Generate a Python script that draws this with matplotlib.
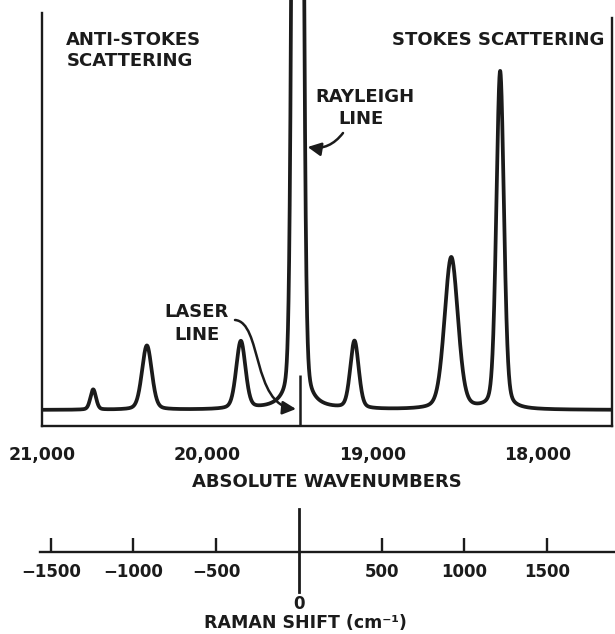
import numpy as np
import matplotlib
matplotlib.use("Agg")
import matplotlib.pyplot as plt
from matplotlib.path import Path
from matplotlib.patches import FancyArrowPatch

plt.rcParams['font.family'] = ['DejaVu Sans']
plt.rcParams['font.weight'] = 'bold'
plt.rcParams['axes.labelweight'] = 'bold'

# laser / Rayleigh line, absolute wavenumber (cm-1)
laser_wn = 19440

# Raman bands: shift from laser line (cm-1), relative height, FWHM (cm-1)
band_shift = [-1250, -925, -356, 332, 918, 1214]
band_height = [0.06, 0.19, 0.20, 0.20, 0.45, 1.0]
band_fwhm = [40, 70, 66, 60, 96, 54]

# Rayleigh line: sharp core plus broad wings
rayleigh_shift = -12
rayleigh_core = [6.3, 21]    # height, sigma
rayleigh_wing = [0.5, 32]    # height, half width

wn_ticks = [21000, 20000, 19000, 18000]
wn_labels = ["21,000", "20,000", "19,000", "18,000"]
shift_ticks = [-1500, -1000, -500, 500, 1000, 1500]
shift_labels = ["\u22121500", "\u22121000", "\u2212500", "500", "1000", "1500"]

ink = "#1b1b1b"
W, H = 615, 634
k = 0.1655        # pixels per cm-1
x0 = 299          # pixel column of the laser line


def fx(px):
    return px / W


def fy(py):
    return 1 - py / H


def spectrum(s):
    y = np.zeros_like(s)
    for c, h, fw in zip(band_shift, band_height, band_fwhm):
        sig = fw / 2.3548
        g = np.exp(-(s - c) ** 2 / (2 * sig ** 2))
        l = 1 / (1 + ((s - c) / (fw / 2)) ** 2)
        y += h * (0.75 * g + 0.25 * l)
    a, sg = rayleigh_core
    b, hw = rayleigh_wing
    y += a * np.exp(-(s - rayleigh_shift) ** 2 / (2 * sg ** 2))
    y += b / (1 + ((s - rayleigh_shift) / hw) ** 2)
    return y


s = np.linspace(-1600, 1950, 6000)
inten = spectrum(s)

fig = plt.figure(figsize=(W / 100, H / 100), dpi=100)

# spectrum panel (absolute wavenumbers)
ax1 = fig.add_axes([fx(42), fy(426), fx(612) - fx(42), fy(0) - fy(426)])
ax1.plot(laser_wn - s, inten, color=ink, lw=2.7, solid_joinstyle='round')
ax1.set_xlim(laser_wn - (42 - x0) / k, laser_wn - (612 - x0) / k)
y_lo = (410 - 426) / 338
ax1.set_ylim(y_lo, 410 / 338)
ax1.vlines(laser_wn, y_lo, (410 - 375) / 338, color=ink, lw=1.8)

for side in ['left', 'right', 'bottom']:
    ax1.spines[side].set_linewidth(1.7)
    ax1.spines[side].set_color(ink)
ax1.spines['top'].set_visible(False)
ax1.spines['left'].set_bounds(y_lo, (410 - 13) / 338)
ax1.spines['right'].set_bounds(y_lo, (410 - 18) / 338)
ax1.set_yticks([])
ax1.set_xticks(wn_ticks, wn_labels)
ax1.tick_params(axis='x', length=0, pad=14.5, labelsize=12.5, labelcolor=ink)
ax1.set_xlabel("ABSOLUTE WAVENUMBERS", fontsize=13, color=ink)
ax1.xaxis.set_label_coords(0.5, -(482 - 426) / 426)
ax1.xaxis.label.set_verticalalignment('center')

# Raman shift scale
ax2 = fig.add_axes([fx(40), fy(552), fx(615) - fx(40), fy(509) - fy(552)])
ax2.set_facecolor('none')
ax2.set_xlim((40 - x0) / k, (615 - x0) / k)
ax2.set_ylim(0, 1)
for side in ['left', 'right', 'top']:
    ax2.spines[side].set_visible(False)
ax2.spines['bottom'].set_linewidth(1.7)
ax2.spines['bottom'].set_color(ink)
ax2.set_yticks([])
ax2.set_xticks(shift_ticks, shift_labels)
ax2.tick_params(axis='x', direction='in', length=10, width=1.7, color=ink,
                pad=8, labelsize=12, labelcolor=ink)
tr = ax2.get_xaxis_transform()
ax2.plot([0, 0], [1.0, -(592 - 552) / 43], transform=tr, clip_on=False,
         color=ink, lw=2.0)
ax2.text(0, -(604 - 552) / 43, "0", transform=tr, ha='center', va='center',
         fontsize=12, color=ink)
ax2.set_xlabel("RAMAN SHIFT (cm\u207b\u00b9)", fontsize=12.5, color=ink)
ax2.xaxis.set_label_coords((305 - 40) / 575, -(623 - 552) / 43)
ax2.xaxis.label.set_verticalalignment('center')

# annotations
txt = dict(fontsize=13, color=ink, ha='center', va='center')
fig.text(fx(133), fy(40), "ANTI-STOKES", **txt)
fig.text(fx(130), fy(61), "SCATTERING", **txt)
fig.text(fx(498), fy(40), "STOKES SCATTERING", **txt)
fig.text(fx(365), fy(97), "RAYLEIGH", **txt)
fig.text(fx(361), fy(119), "LINE", **txt)
fig.text(fx(197), fy(312), "LASER", **txt)
fig.text(fx(197), fy(335), "LINE", **txt)

ax1.annotate("", xy=(laser_wn - (307 - x0) / k, (410 - 147) / 338), xycoords='data',
             xytext=(fx(343), fy(133)), textcoords='figure fraction',
             arrowprops=dict(arrowstyle='-|>,head_length=0.5,head_width=0.25',
                             connectionstyle='arc3,rad=-0.3', color=ink, lw=1.8,
                             shrinkA=0, shrinkB=0, mutation_scale=16))

pts = [(235, 320), (262, 322), (252, 405), (296, 409)]
laser_path = Path([(fx(a), fy(b)) for a, b in pts],
                  [Path.MOVETO, Path.CURVE4, Path.CURVE4, Path.CURVE4])
fig.add_artist(FancyArrowPatch(path=laser_path, transform=fig.transFigure,
                               arrowstyle='-|>,head_length=0.5,head_width=0.25',
                               mutation_scale=16, color=ink, lw=1.8))

fig.savefig("out.png", dpi=100, facecolor='white')
